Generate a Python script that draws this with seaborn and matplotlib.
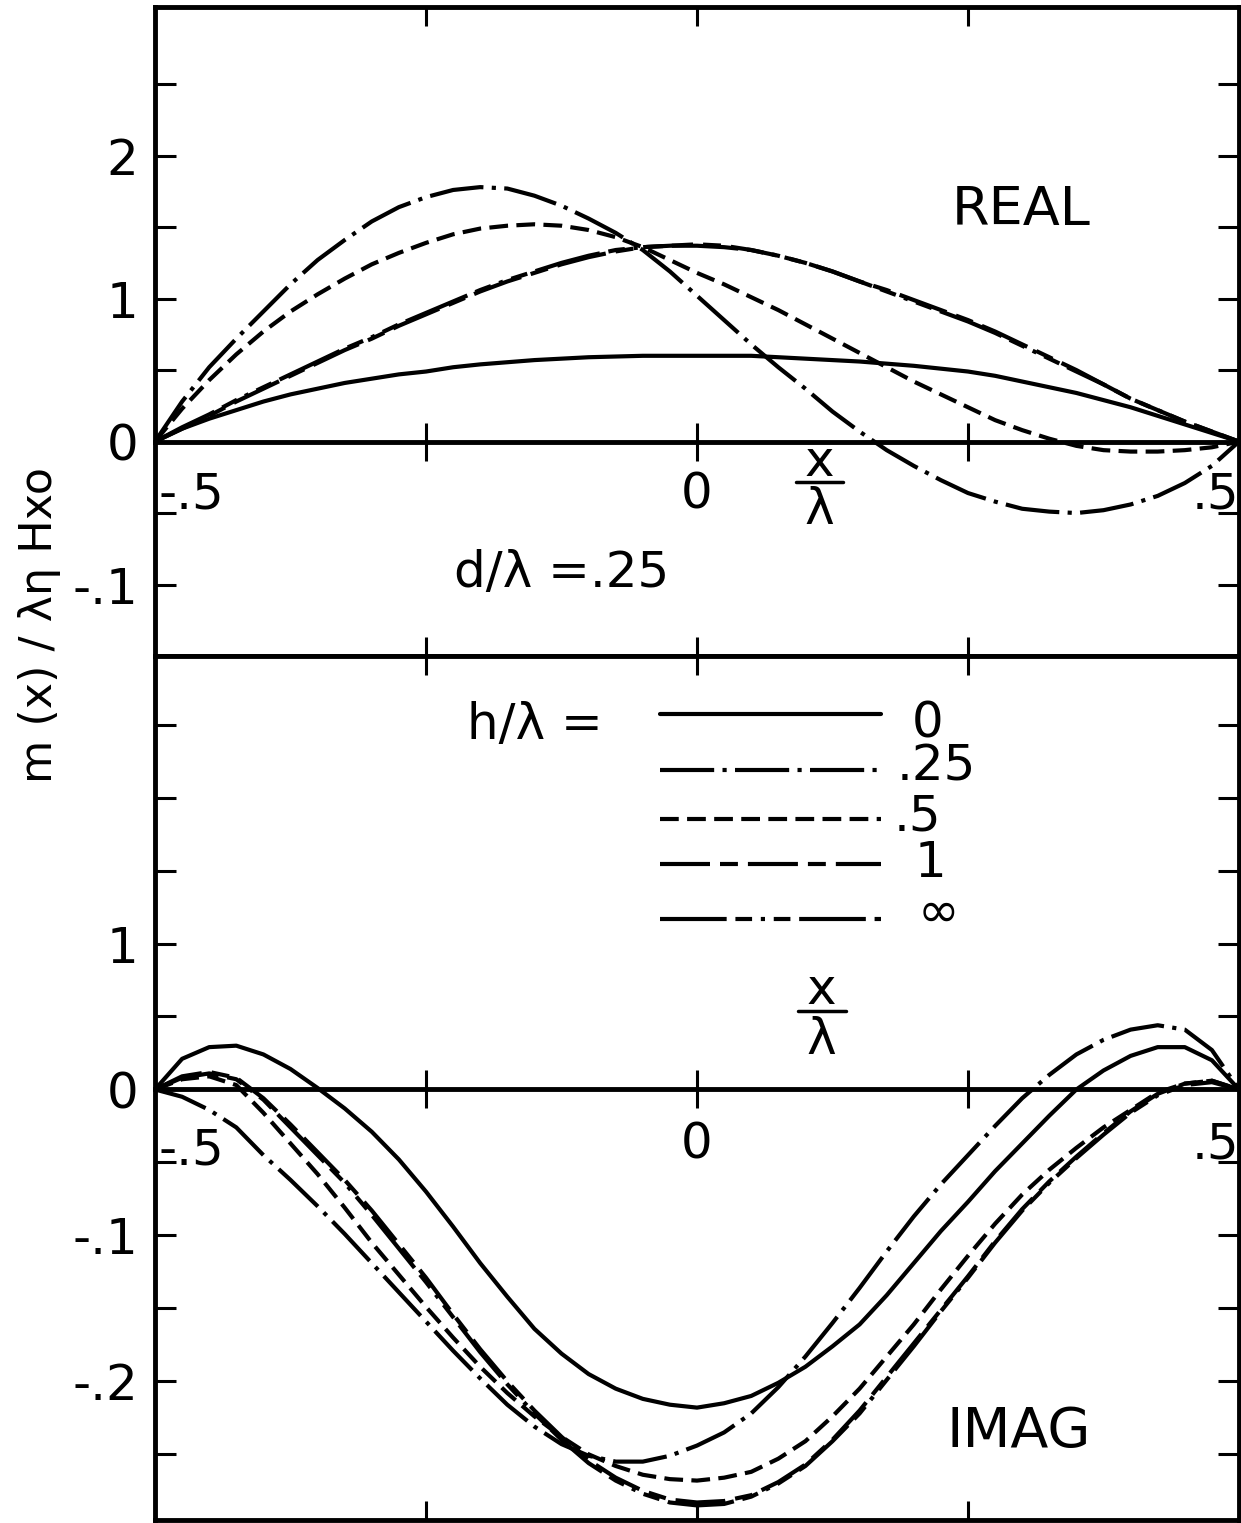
import matplotlib
matplotlib.use('Agg')
import numpy as np
import pandas as pd
import matplotlib.pyplot as plt
import seaborn as sns

# ---- data (d/lambda = .25) ----
H_LABELS = ['0', '.25', '.5', '1', '∞']

X_GRID = [-0.5, -0.475, -0.45, -0.425, -0.4, -0.375, -0.35, -0.325, -0.3, -0.275,
          -0.25, -0.225, -0.2, -0.175, -0.15, -0.125, -0.1, -0.075, -0.05, -0.025,
          0.0, 0.025, 0.05, 0.075, 0.1, 0.125, 0.15, 0.175, 0.2, 0.225,
          0.25, 0.275, 0.3, 0.325, 0.35, 0.375, 0.4, 0.425, 0.45, 0.475, 0.5]

# real part
REAL_H0 = [0, .009, .016, .022, .028, .033, .037, .041, .044, .047,
           .049, .052, .054, .0555, .057, .058, .059, .0595, .060, .060,
           .060, .060, .060, .059, .058, .057, .056, .0545, .053, .051,
           .049, .046, .042, .038, .034, .029, .024, .018, .012, .006, 0]
REAL_H025 = [0, .028, .052, .072, .091, .110, .127, .141, .154, .164,
             .171, .176, .178, .177, .172, .165, .156, .146, .134, .119,
             .102, .085, .068, .052, .037, .021, .007, -.006, -.017, -.027,
             -.036, -.042, -.047, -.049, -.050, -.048, -.044, -.038, -.029, -.017, 0]
REAL_H05 = [0, .023, .043, .061, .077, .091, .103, .114, .124, .132,
            .139, .145, .149, .151, .152, .151, .148, .143, .136, .127,
            .118, .110, .101, .092, .082, .072, .062, .052, .042, .033,
            .024, .015, .008, .002, -.003, -.006, -.007, -.007, -.006, -.004, 0]
REAL_H1 = [0, .009, .018, .028, .037, .046, .055, .064, .072, .081,
           .089, .097, .105, .112, .118, .124, .129, .133, .136, .137,
           .138, .137, .134, .130, .125, .119, .112, .106, .099, .092,
           .085, .077, .068, .059, .050, .040, .030, .022, .014, .007, 0]
REAL_HINF = [0, .010, .019, .029, .038, .047, .056, .065, .073, .082,
             .090, .098, .106, .113, .119, .125, .130, .134, .136, .137,
             .137, .136, .134, .130, .125, .119, .112, .105, .098, .091,
             .084, .076, .067, .058, .049, .040, .030, .022, .014, .007, 0]

# imaginary part
IMAG_H0 = [0, .021, .029, .030, .024, .014, .001, -.013, -.029, -.048,
           -.070, -.094, -.119, -.142, -.164, -.181, -.195, -.205, -.212, -.216,
           -.218, -.215, -.210, -.201, -.190, -.176, -.161, -.141, -.119, -.097,
           -.077, -.056, -.037, -.018, .000, .013, .023, .029, .029, .020, 0]
IMAG_H025 = [0, -.005, -.014, -.026, -.045, -.062, -.080, -.099, -.119, -.139,
             -.159, -.179, -.198, -.216, -.231, -.243, -.251, -.255, -.255, -.251,
             -.244, -.235, -.222, -.204, -.183, -.160, -.136, -.111, -.087, -.065,
             -.045, -.025, -.006, .010, .024, .034, .041, .044, .041, .027, 0]
IMAG_H05 = [0, .007, .009, .003, -.016, -.037, -.058, -.081, -.105, -.127,
            -.149, -.170, -.190, -.208, -.224, -.238, -.250, -.258, -.264, -.267,
            -.268, -.266, -.262, -.253, -.241, -.224, -.205, -.183, -.161, -.137,
            -.114, -.092, -.072, -.055, -.040, -.026, -.014, -.002, .004, .006, 0]
IMAG_H1 = [0, .009, .012, .008, -.006, -.024, -.043, -.062, -.083, -.106,
           -.129, -.154, -.178, -.200, -.220, -.238, -.254, -.266, -.275, -.281,
           -.283, -.282, -.278, -.269, -.257, -.240, -.220, -.197, -.174, -.151,
           -.128, -.104, -.082, -.063, -.046, -.030, -.015, -.003, .004, .006, 0]
IMAG_HINF = [0, .008, .011, .007, -.007, -.026, -.045, -.064, -.086, -.109,
             -.132, -.156, -.180, -.202, -.222, -.240, -.256, -.268, -.277, -.283,
             -.285, -.284, -.279, -.270, -.258, -.241, -.222, -.199, -.176, -.152,
             -.129, -.105, -.083, -.064, -.047, -.031, -.016, -.004, .003, .005, 0]

# dash patterns (in units of line width)
DASHES = {
    '0': '',
    '.25': (13, 2, 1, 2),
    '.5': (4.5, 2),
    '1': (12, 2.4, 4.3, 2.4),
    '∞': (16, 2.1, 4, 2.1, 1, 2.1, 4, 2.1),
}


def long_frame(x, series):
    rows = []
    for lab, ys in zip(H_LABELS, series):
        for xv, yv in zip(x, ys):
            rows.append({'x': xv, 'y': yv, 'h': lab})
    return pd.DataFrame(rows)


sns.set_style('ticks', {'axes.edgecolor': 'black', 'xtick.color': 'black',
                        'ytick.color': 'black', 'text.color': 'black'})
plt.rcParams['font.family'] = ['DejaVu Sans']

W, H = 1241, 1523
fig = plt.figure(figsize=(W / 100, H / 100), dpi=100)
left, right = 155, 1239
ax_re = fig.add_axes([left / W, 1 - 656 / H, (right - left) / W, (656 - 7) / H])
ax_im = fig.add_axes([left / W, 1 - 1520 / H, (right - left) / W, (1520 - 656) / H])

FS = 36
LW = 3


def draw_panel(ax, df, ylim, yticks, ylabels):
    sns.lineplot(data=df, x='x', y='y', style='h', style_order=H_LABELS, dashes=DASHES,
                 color='black', linewidth=LW, estimator=None, sort=False,
                 legend=False, ax=ax)
    ax.set_xlim(-0.5, 0.5)
    ax.set_ylim(*ylim)
    ax.set_xlabel('')
    ax.set_ylabel('')
    ax.set_xticks([-0.25, 0, 0.25])
    ax.tick_params(axis='x', direction='in', top=True, bottom=True,
                   labelbottom=False, length=14, width=2.2)
    ax.set_yticks(yticks, ylabels)
    ax.tick_params(axis='y', direction='in', left=True, right=True,
                   length=15, width=2.2, labelsize=FS, pad=12)
    for s in ax.spines.values():
        s.set_visible(True)
        s.set_linewidth(3.5)
    # zero line with its own x ticks
    frac = (0 - ylim[0]) / (ylim[1] - ylim[0])
    sec = ax.secondary_xaxis(frac)
    sec.set_xticks([-0.25, 0, 0.25])
    sec.tick_params(direction='inout', length=28, width=2.2,
                    labelbottom=False, labeltop=False)
    for s in sec.spines.values():
        s.set_linewidth(3.5)


def fraction(ax, xc, y_num, y_bar, y_den, half=0.022):
    ax.text(xc, y_num, 'x', fontsize=FS, ha='center', va='center')
    ax.plot([xc - half, xc + half], [y_bar, y_bar], color='black', lw=2.5)
    ax.text(xc, y_den, 'λ', fontsize=FS, ha='center', va='center')


# ---- REAL panel ----
df_re = long_frame(X_GRID, [REAL_H0, REAL_H025, REAL_H05, REAL_H1, REAL_HINF])
ylim_re = (-0.150, 0.304)
draw_panel(ax_re, df_re, ylim_re,
           [0.25, 0.2, 0.15, 0.1, 0.05, 0, -0.05, -0.1],
           ['', '2', '', '1', '', '0', '', '-.1'])
ax_re.text(0.299, 0.162, 'REAL', fontsize=39, ha='center', va='center')
ax_re.text(-0.125, -0.092, 'd/λ =.25', fontsize=FS, ha='center', va='center')
ax_re.text(-0.497, -0.037, '-.5', fontsize=FS, ha='left', va='center')
ax_re.text(0.0, -0.037, '0', fontsize=FS, ha='center', va='center')
ax_re.text(0.5, -0.037, '.5', fontsize=FS, ha='right', va='center')
fraction(ax_re, 0.113, -0.014, -0.028, -0.048)

# ---- IMAG panel ----
df_im = long_frame(X_GRID, [IMAG_H0, IMAG_H025, IMAG_H05, IMAG_H1, IMAG_HINF])
ylim_im = (-0.295, 0.297)
draw_panel(ax_im, df_im, ylim_im,
           [-0.25, -0.2, -0.15, -0.1, -0.05, 0, 0.05, 0.1, 0.15, 0.2, 0.25],
           ['', '-.2', '', '-.1', '', '0', '', '1', '', '', ''])
ax_im.text(0.297, -0.235, 'IMAG', fontsize=40, ha='center', va='center')
ax_im.text(-0.497, -0.042, '-.5', fontsize=FS, ha='left', va='center')
ax_im.text(0.0, -0.038, '0', fontsize=FS, ha='center', va='center')
ax_im.text(0.5, -0.038, '.5', fontsize=FS, ha='right', va='center')
fraction(ax_im, 0.115, 0.068, 0.054, 0.034)

# legend drawn by hand, as in the original
ax_im.text(-0.150, 0.250, 'h/λ =', fontsize=FS, ha='center', va='center')
leg_y = [0.2575, 0.219, 0.1856, 0.1548, 0.1171]
lab_pos = [(0.213, 0.251), (0.221, 0.221), (0.203, 0.187), (0.215, 0.155), (0.223, 0.121)]
for lab, yl, (tx, ty) in zip(H_LABELS, leg_y, lab_pos):
    ln, = ax_im.plot([-0.034, 0.170], [yl, yl], color='black', lw=LW)
    if DASHES[lab]:
        ln.set_dashes(DASHES[lab])
    ax_im.text(tx, ty, lab, fontsize=FS, ha='center', va='center')

fig.text(40 / W, 1 - 625 / H, 'm (x) / λη Hxo', fontsize=32,
         rotation=90, ha='center', va='center')

fig.savefig('out.png', dpi=100)
